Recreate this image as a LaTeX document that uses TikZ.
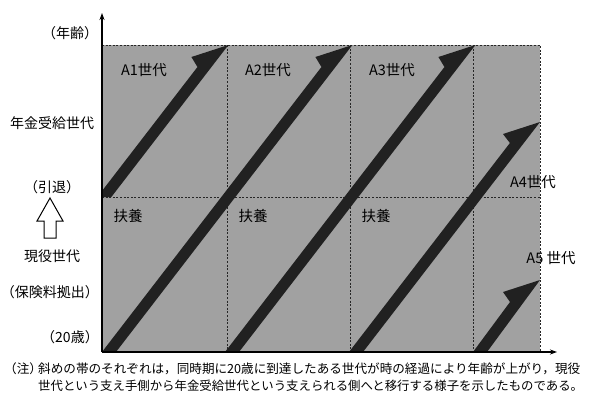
\documentclass[tikz,border=0pt]{standalone}
\usepackage{fontspec}
\newfontfamily\jp{Noto Sans CJK JP}
\usetikzlibrary{arrows.meta}
\definecolor{stipple}{gray}{0.63}
\definecolor{bandcol}{gray}{0.13}
\tikzset{
  lbl/.style={font=\jp\fontsize{14.5}{16}\selectfont, inner sep=0pt, text=black},
  side/.style={font=\jp\fontsize{14}{16}\selectfont, inner sep=0pt},
  note/.style={font=\jp\fontsize{12.6}{16.5}\selectfont, inner sep=0pt, anchor=west},
  notetwo/.style={font=\jp\fontsize{12.4}{16.5}\selectfont, inner sep=0pt, anchor=west},
  grid/.style={dash pattern=on 2pt off 1.6pt, line width=0.9pt, black!85},
  axis/.style={line width=1.1pt, -{Stealth[length=7pt,width=5pt]}},
  band/.style={fill=bandcol, draw=none},
}
\begin{document}
\begin{tikzpicture}[x=1pt,y=-1pt]
\useasboundingbox[fill=white] (0,0) rectangle (589,410);
% plot region
\coordinate (o) at (102,352);
\coordinate (tl) at (102,45);
\coordinate (br) at (540,352);
\fill[stipple] (tl) rectangle (br);
% dashed grid
\draw[grid] (102,45) -- (540,45) -- (540,352);
\draw[grid] (102,197) -- (540,197);
\foreach \x in {227,350,473} \draw[grid] (\x,45) -- (\x,352);
% bands
\begin{scope}
\clip (tl) rectangle (br);
\fill[band] (97.35,197) -- (111.35,197) -- (228.4,45) -- (191.4,57) -- (197.45,67) -- cycle;
\fill[band] (102,352) -- (116,352) -- (352.4,45) -- (315.4,57) -- (321.45,67) -- cycle;
\fill[band] (225,352) -- (239,352) -- (475.4,45) -- (438.4,57) -- (444.45,67) -- cycle;
\fill[band] (349,352) -- (363,352) -- (540,122) -- (503,134) -- (509.9,143) -- cycle;
\fill[band] (473,352) -- (487,352) -- (540,280) -- (503,292) -- (510,302) -- cycle;
\end{scope}
% axes
\coordinate (ytop) at (102,13);
\coordinate (xend) at (557,352);
\draw[axis] (o) -- (ytop);
\draw[axis] (o) -- (xend);
% labels in plot
\node[lbl] (a1) at (144,70) {A1世代};
\node[lbl] (a2) at (268,70) {A2世代};
\node[lbl] (a3) at (392,70) {A3世代};
\node[lbl] (a4) at (533,182) {A4世代};
\node[lbl] (a5) at (551,258) {A5 世代};
\node[lbl] (f1) at (128,216) {扶養};
\node[lbl] (f2) at (253,216) {扶養};
\node[lbl] (f3) at (376,216) {扶養};
% side labels
\node[side] (age) at (70,33) {（年齢）};
\node[side] (pen) at (52,123) {年金受給世代};
\node[side] (ret) at (52,187) {（引退）};
\node[side] (cur) at (52,256) {現役世代};
\node[side] (ins) at (50,292) {（保険料拠出）};
\node[side] (t20) at (70,337) {（20歳）};
% outline arrow
\draw[line width=1pt, fill=white, line join=miter] (50,198) -- (63,221) -- (56,221) -- (56,238) -- (44,238) -- (44,221) -- (37,221) -- cycle;
% note
\node[note] (n0) at (4,369) {（注）};
\node[note] (n1) at (38,369) {斜めの帯のそれぞれは，同時期に20歳に到達したある世代が時の経過により年齢が上がり，現役};
\node[notetwo] (n2) at (38,386) {世代という支え手側から年金受給世代という支えられる側へと移行する様子を示したものである。};
\end{tikzpicture}
\end{document}
